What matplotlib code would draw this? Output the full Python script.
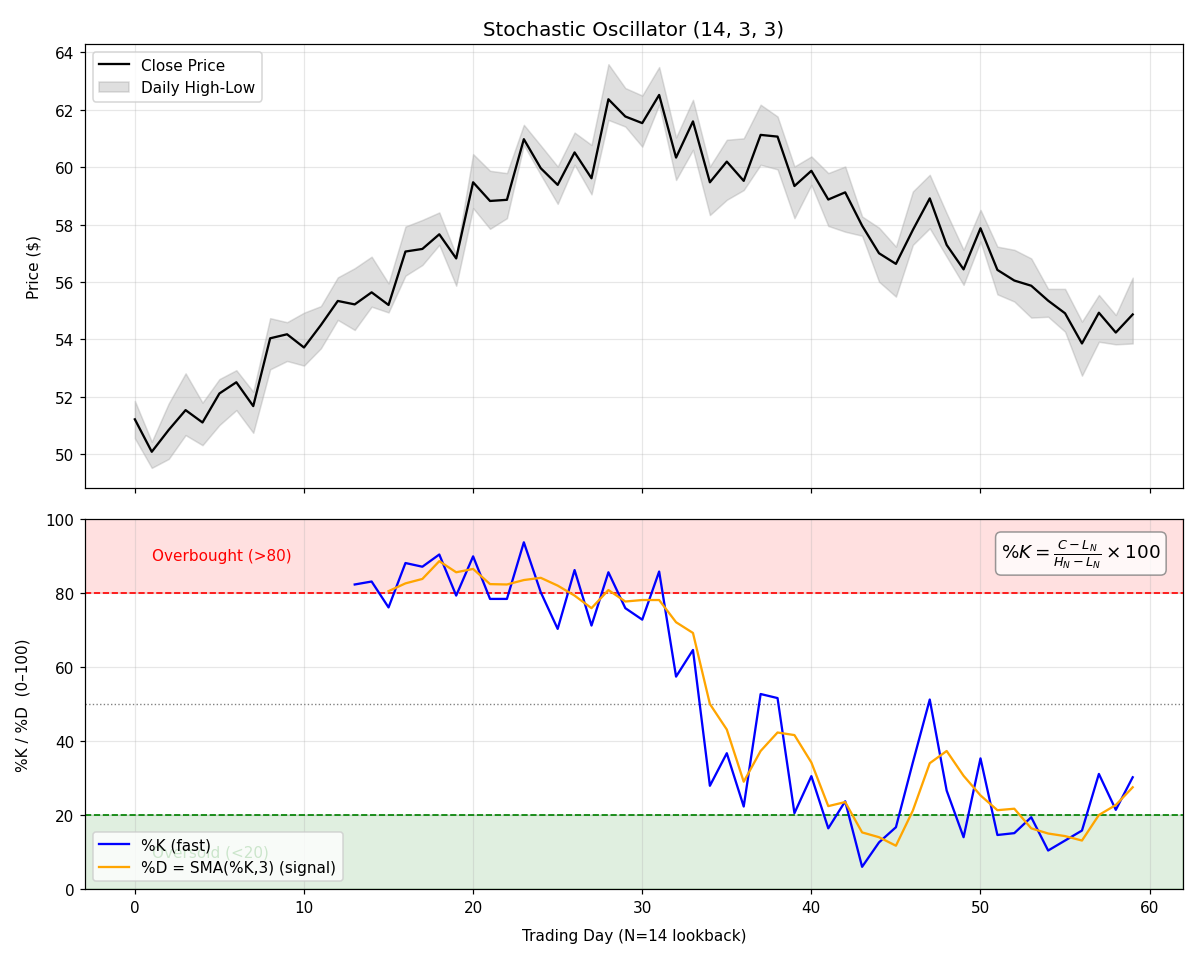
import numpy as np
import matplotlib
matplotlib.use("Agg")
import matplotlib.pyplot as plt

# price data
days = np.arange(60)
close = [51.22, 50.09, 50.85, 51.54, 51.11, 52.12, 52.51, 51.68, 54.04, 54.18,
         53.72, 54.50, 55.34, 55.22, 55.64, 55.20, 57.06, 57.15, 57.66, 56.82,
         59.47, 58.82, 58.86, 60.97, 59.96, 59.38, 60.51, 59.61, 62.36, 61.76,
         61.53, 62.51, 60.33, 61.59, 59.47, 60.19, 59.52, 61.12, 61.06, 59.34,
         59.87, 58.87, 59.12, 57.96, 57.00, 56.63, 57.81, 58.91, 57.29, 56.44,
         57.87, 56.42, 56.05, 55.87, 55.35, 54.91, 53.86, 54.93, 54.24, 54.87]
high = [51.86, 50.44, 51.77, 52.82, 51.80, 52.62, 52.93, 52.18, 54.74, 54.60,
        54.93, 55.16, 56.16, 56.48, 56.88, 55.95, 57.93, 58.16, 58.42, 56.94,
        60.45, 59.87, 59.79, 61.47, 60.75, 60.02, 61.20, 60.77, 63.58, 62.75,
        62.49, 63.48, 61.03, 62.34, 60.02, 60.95, 61.00, 62.17, 61.76, 60.02,
        60.37, 59.79, 60.02, 58.28, 57.89, 57.23, 59.15, 59.73, 58.39, 57.12,
        58.51, 57.23, 57.12, 56.82, 55.76, 55.76, 54.62, 55.55, 54.85, 56.15]
low = [50.56, 49.53, 49.84, 50.67, 50.32, 51.02, 51.54, 50.75, 52.96, 53.25,
       53.09, 53.69, 54.68, 54.33, 55.14, 54.94, 56.22, 56.59, 57.29, 55.87,
       58.57, 57.85, 58.22, 60.77, 59.73, 58.72, 60.08, 59.05, 61.64, 61.41,
       60.71, 62.17, 59.55, 60.60, 58.33, 58.86, 59.20, 60.08, 59.92, 58.22,
       59.38, 57.95, 57.75, 57.61, 56.01, 55.49, 57.29, 57.87, 56.88, 55.90,
       57.41, 55.57, 55.32, 54.76, 54.79, 54.27, 52.74, 53.92, 53.83, 53.86]

# %K from day 13, %D from day 15
k_days = np.arange(13, 60)
pct_k = [82.3, 83.1, 76.1, 88.1, 87.1, 90.4, 79.3, 89.9, 78.4, 78.4,
         93.7, 80.2, 70.3, 86.2, 71.2, 85.6, 75.9, 72.8, 85.8, 57.4,
         64.6, 27.9, 36.7, 22.3, 52.7, 51.6, 20.5, 30.5, 16.4, 23.7,
         6.0, 12.6, 16.7, 34.2, 51.2, 26.6, 14.0, 35.3, 14.6, 15.1,
         19.4, 10.4, 13.1, 15.8, 31.1, 21.4, 30.2]
d_days = np.arange(15, 60)
pct_d = [80.5, 82.6, 83.8, 88.6, 85.6, 86.5, 82.4, 82.3, 83.5, 84.1,
         82.0, 79.3, 75.9, 80.8, 77.7, 78.1, 78.1, 72.1, 69.2, 50.0,
         43.1, 29.0, 37.3, 42.3, 41.6, 34.2, 22.4, 23.5, 15.3, 14.0,
         11.7, 21.2, 34.0, 37.3, 30.6, 25.3, 21.3, 21.7, 16.4, 15.0,
         14.3, 13.1, 20.0, 22.7, 27.5]

fig, (ax1, ax2) = plt.subplots(2, 1, figsize=(12 / 1.1, 9.6 / 1.1), dpi=110, sharex=True,
                               gridspec_kw={'height_ratios': [1.2, 1]})

ax1.fill_between(days, low, high, color='gray', alpha=0.25, label='Daily High-Low')
ax1.plot(days, close, color='black', lw=1.5, label='Close Price')
ax1.set_ylabel('Price ($)', labelpad=8.5)
ax1.set_title('Stochastic Oscillator (14, 3, 3)', fontsize=13)
ax1.grid(True, alpha=0.3)
h, l = ax1.get_legend_handles_labels()
ax1.legend(h[::-1], l[::-1], loc='upper left')

ax2.axhspan(80, 100, color='red', alpha=0.12)
ax2.axhspan(0, 20, color='green', alpha=0.12)
ax2.axhline(80, color='red', ls='--', lw=1.1)
ax2.axhline(20, color='green', ls='--', lw=1.1)
ax2.axhline(50, color='gray', ls=':', lw=0.9)
ax2.plot(k_days, pct_k, color='blue', lw=1.5, label='%K (fast)')
ax2.plot(d_days, pct_d, color='orange', lw=1.5, label='%D = SMA(%K,3) (signal)')
ax2.text(1, 90, 'Overbought (>80)', color='red', va='center', fontsize=10)
ax2.text(1, 10, 'Oversold (<20)', color='green', va='center', fontsize=10)
ax2.text(0.98, 0.95, r'$\%K = \frac{C - L_N}{H_N - L_N} \times 100$',
         transform=ax2.transAxes, ha='right', va='top', fontsize=12,
         bbox=dict(boxstyle='round', facecolor='white', alpha=0.8, edgecolor='gray'))
ax2.set_ylim(0, 100)
ax2.set_ylabel('%K / %D  (0–100)', labelpad=10)
ax2.set_xlabel('Trading Day (N=14 lookback)', labelpad=9)
ax2.grid(True, alpha=0.3)
ax2.legend(loc='lower left')

plt.subplots_adjust(left=0.0708, right=0.9855, top=0.9531, bottom=0.0729, hspace=0.076)
plt.savefig('out.png', dpi=110)
